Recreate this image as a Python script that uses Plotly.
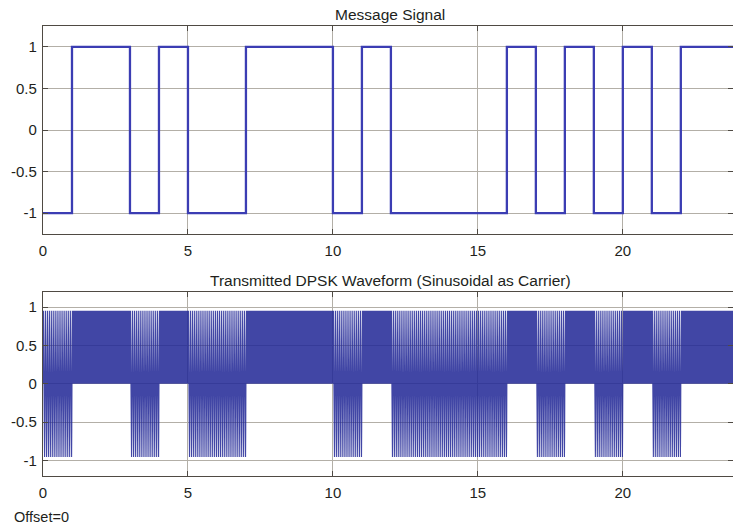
import numpy as np
import plotly.graph_objects as go

# Message bits, one per unit time interval (+1 / -1)
bits = [-1, 1, 1, -1, 1, -1, -1, 1, 1, 1, -1, 1,
        -1, -1, -1, -1, 1, -1, 1, -1, 1, -1, 1, 1]
x_ticks = [0, 5, 10, 15, 20]
y_ticks = [-1, -0.5, 0, 0.5, 1]
y_tick_text = ["-1", "-0.5", "0", "0.5", "1"]

carrier_cycles_per_bit = 15
samples_per_cycle = 10

# Message signal as a step trace
msg_t = []
msg_y = []
for i, b in enumerate(bits):
    msg_t += [i, i + 1]
    msg_y += [b, b]

# Sampled sinusoidal carrier, keyed by the message bits
n_per_bit = carrier_cycles_per_bit * samples_per_cycle
tx_t = []
tx_y = []
for i, b in enumerate(bits):
    k = np.arange(n_per_bit)
    t = i + k / n_per_bit
    s = np.sin(2 * np.pi * k / samples_per_cycle)
    if b > 0:
        s = np.abs(s)
    tx_t.extend(t.tolist())
    tx_y.extend(s.tolist())
tx_t.append(len(bits))
tx_y.append(0.0)

FONT = "Liberation Sans, Arial, Helvetica, sans-serif"
TXT = "#221f1c"
FRAME = "#4f4a43"
GRID = "#b3afa7"
X_RANGE = [0, 23.8]

fig = go.Figure()
fig.add_trace(go.Scatter(x=msg_t, y=msg_y, mode="lines",
                         line=dict(color="#3b3db3", width=2.3),
                         xaxis="x", yaxis="y", showlegend=False))
fig.add_trace(go.Scatter(x=tx_t, y=tx_y, mode="lines",
                         line=dict(color="rgba(34,40,150,0.86)", width=1.1),
                         xaxis="x2", yaxis="y2", showlegend=False))

axis_common = dict(
    showline=True, linecolor=FRAME, linewidth=1.3, mirror="allticks",
    ticks="inside", ticklen=5, tickcolor=FRAME, tickwidth=1.2,
    showgrid=True, gridcolor=GRID, gridwidth=1, zeroline=False,
    tickfont=dict(family=FONT, size=15, color=TXT),
)

fig.update_layout(
    width=733, height=530,
    margin=dict(l=43, r=0, t=26, b=54),
    paper_bgcolor="white", plot_bgcolor="white",
    xaxis=dict(domain=[0, 1], range=X_RANGE, tickvals=x_ticks, anchor="y",
               ticklabelstandoff=3, **axis_common),
    yaxis=dict(domain=[0.5378, 1.0], range=[-1.25, 1.25], tickvals=y_ticks,
               ticktext=y_tick_text, anchor="x", ticklabelstandoff=2, **axis_common),
    xaxis2=dict(domain=[0, 1], range=X_RANGE, tickvals=x_ticks, anchor="y2",
                ticklabelstandoff=3, **axis_common),
    yaxis2=dict(domain=[0, 0.4096], range=[-1.2, 1.2], tickvals=y_ticks,
                ticktext=y_tick_text, anchor="x2", ticklabelstandoff=2, **axis_common),
    annotations=[
        dict(text="Message Signal", xref="paper", yref="paper",
             x=0.503, y=1.0, yshift=12, xanchor="center", yanchor="middle",
             showarrow=False, font=dict(family=FONT, size=15.5, color=TXT)),
        dict(text="Transmitted DPSK Waveform (Sinusoidal as Carrier)",
             xref="paper", yref="paper", x=0.503, y=0.4096, yshift=11,
             xanchor="center", yanchor="middle", showarrow=False,
             font=dict(family=FONT, size=15.5, color=TXT)),
        dict(text="Offset=0", xref="paper", yref="paper",
             x=-0.0449, y=-0.091, xanchor="left", yanchor="middle",
             showarrow=False, font=dict(family=FONT, size=14.5, color=TXT)),
    ],
)

fig.write_html("out.html")
